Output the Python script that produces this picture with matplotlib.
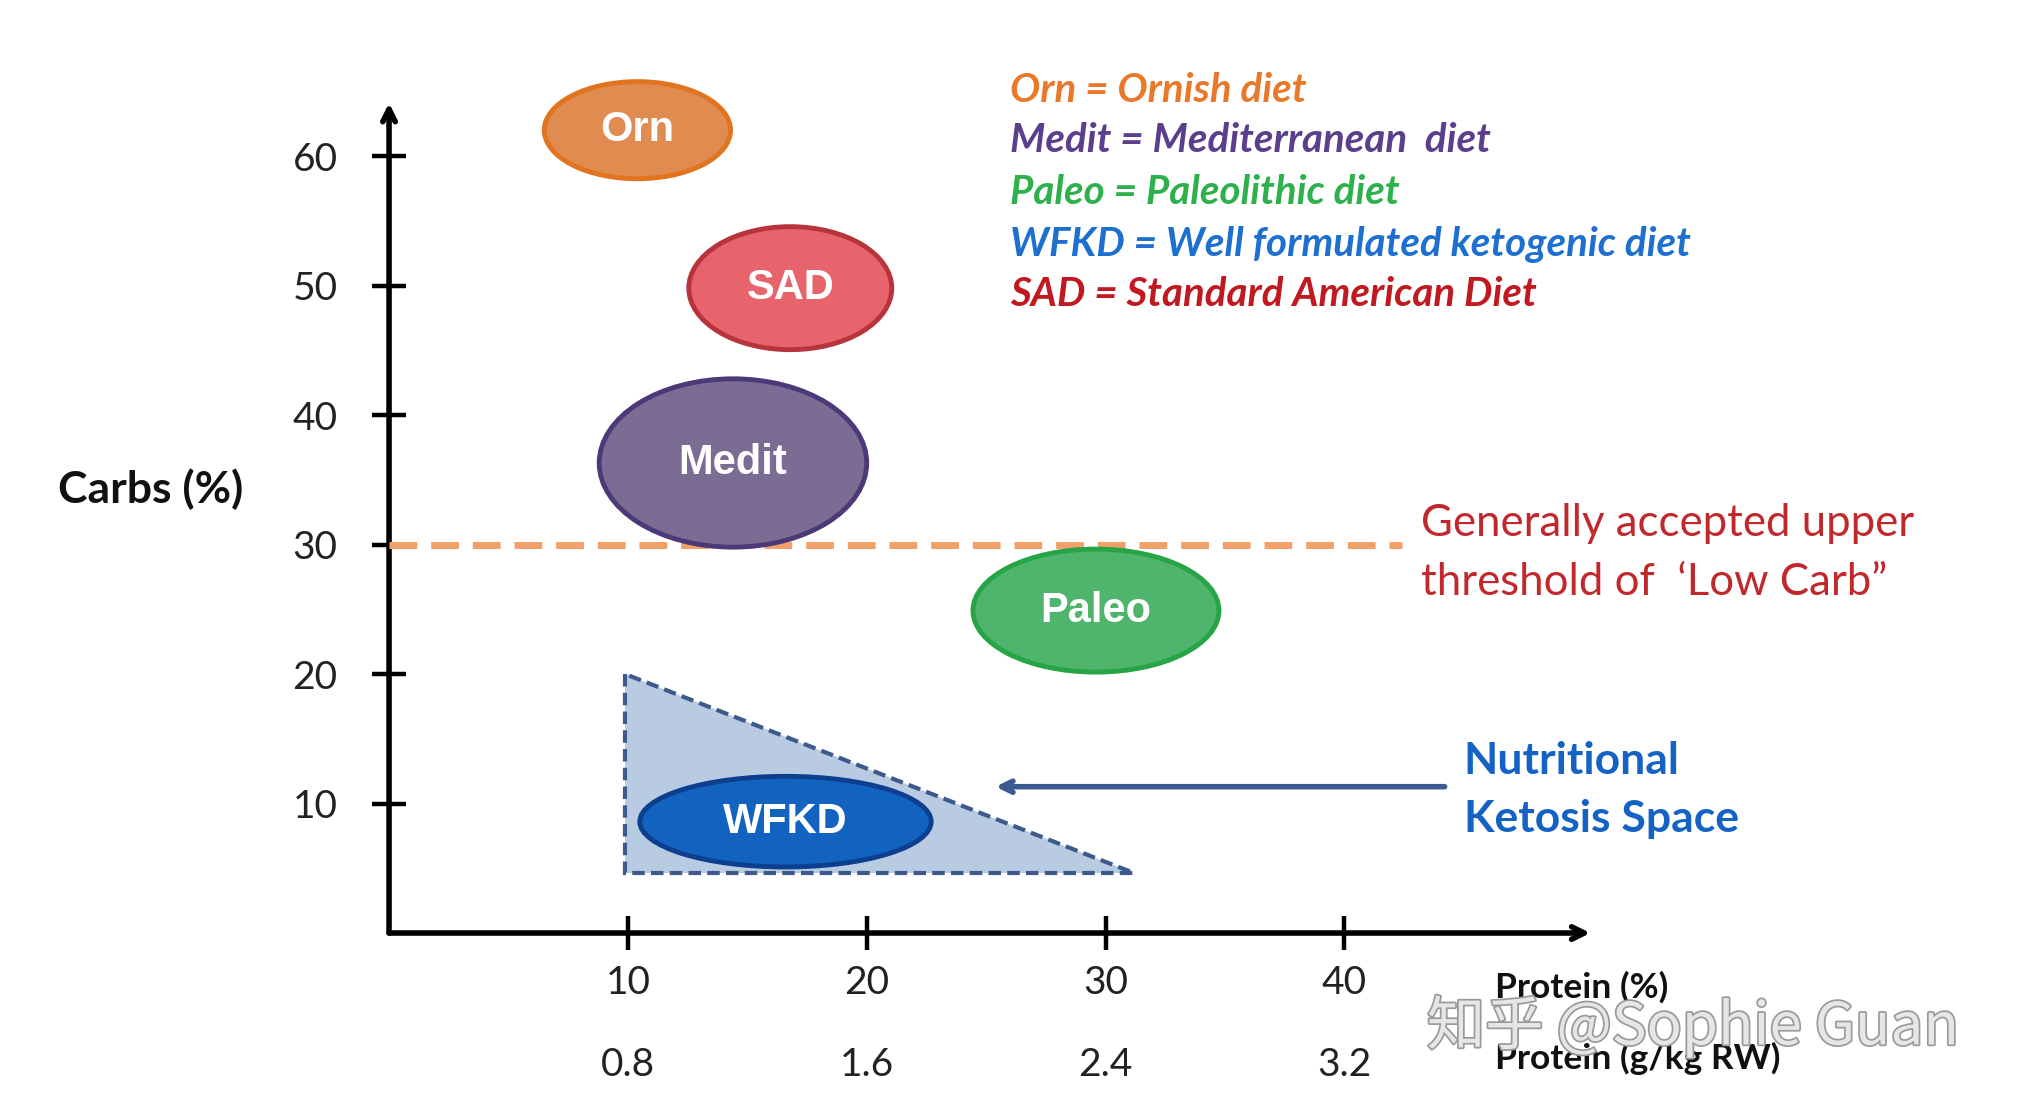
import matplotlib
matplotlib.use("Agg")
import matplotlib.pyplot as plt
from matplotlib.patches import Ellipse, Polygon
import matplotlib.patheffects as pe

# ---------------- data ----------------
diets = ["Orn", "SAD", "Medit", "Paleo", "WFKD"]
protein_pct = [10.4, 16.8, 14.4, 29.6, 16.6]      # centre x (protein %)
carbs_pct = [62.0, 49.8, 36.3, 24.9, 8.6]         # centre y (carbs %)
protein_span = [7.8, 8.5, 11.2, 10.3, 12.2]       # ellipse width (protein %)
carbs_span = [7.5, 9.5, 13.0, 9.5, 7.0]           # ellipse height (carbs %)
fill_colors = ["#e08b50", "#e8646c", "#7b6c93", "#4fb46c", "#1262c0"]
edge_colors = ["#e2731f", "#b8343c", "#4c3a78", "#27a445", "#0d3f8f"]

ketosis_protein = [9.9, 9.9, 31.2]
ketosis_carbs = [20.0, 4.6, 4.6]

low_carb_threshold = 30
threshold_end = 42.4

x_ticks = [10, 20, 30, 40]
x_ticklabels = ["10", "20", "30", "40"]
gkg_ticks = [0.8, 1.6, 2.4, 3.2]
gkg_labels = ["0.8", "1.6", "2.4", "3.2"]
y_ticks = [10, 20, 30, 40, 50, 60]
y_ticklabels = ["10", "20", "30", "40", "50", "60"]

legend_lines = ["Orn = Ornish diet",
                "Medit = Mediterranean  diet",
                "Paleo = Paleolithic diet",
                "WFKD = Well formulated ketogenic diet",
                "SAD = Standard American Diet"]
legend_colors = ["#e8792a", "#5b3f8c", "#2eb04c", "#1d6fd0", "#c0191f"]

# ---------------- figure ----------------
FONT = ["Lato", "DejaVu Sans"]
plt.rcParams["font.family"] = FONT

fig = plt.figure(figsize=(20.21, 11.11), dpi=100)
ax = fig.add_axes([0.1925, 0.1602, 0.5944, 0.7471])
ax.set_xlim(0, 50.3)
ax.set_ylim(0, 64.1)
for s in ax.spines.values():
    s.set_visible(False)

# axis arrows
ax.annotate("", xy=(1, 0), xytext=(0, 0), xycoords="axes fraction",
            arrowprops=dict(arrowstyle="->,head_length=0.9,head_width=0.45",
                            lw=4, color="black", shrinkA=0, shrinkB=0))
ax.annotate("", xy=(0, 1), xytext=(0, 0), xycoords="axes fraction",
            arrowprops=dict(arrowstyle="->,head_length=0.9,head_width=0.45",
                            lw=4, color="black", shrinkA=0, shrinkB=0))

ax.set_xticks(x_ticks, x_ticklabels)
ax.set_yticks(y_ticks, y_ticklabels)
ax.tick_params(axis="both", direction="inout", length=24, width=3.2,
               labelsize=28, colors="black")
ax.tick_params(axis="x", pad=11, labelcolor="#222222")
ax.tick_params(axis="y", pad=25, labelcolor="#222222")

sec = ax.secondary_xaxis("bottom", functions=(lambda x: x * 0.08, lambda x: x / 0.08))
sec.set_xticks(gkg_ticks, gkg_labels)
sec.tick_params(length=0, pad=82, labelsize=28, labelcolor="#222222")
sec.spines["bottom"].set_visible(False)

# ketosis triangle
tri = Polygon(list(zip(ketosis_protein, ketosis_carbs)), closed=True,
              facecolor="#b9cbe3", edgecolor="#3d5a8a", lw=3,
              linestyle=(0, (3, 1.5)), zorder=2)
ax.add_patch(tri)

# threshold line
ax.plot([0, threshold_end], [low_carb_threshold, low_carb_threshold],
        color="#f2a06a", lw=5, linestyle=(0, (4, 2)), zorder=3)

# diet ellipses
for name, x, y, w, h, fc, ec in zip(diets, protein_pct, carbs_pct, protein_span,
                                      carbs_span, fill_colors, edge_colors):
    e = Ellipse((x, y), w, h, facecolor=fc, edgecolor=ec, lw=3.5, zorder=4,
                clip_on=False)
    ax.add_patch(e)
    ax.text(x, y, name, color="white", fontsize=30, fontweight="bold",
            ha="center", va="center", family=["Liberation Sans", "DejaVu Sans"],
            zorder=5)

# arrow to ketosis space
ax.annotate("", xy=(25.4, 11.3), xytext=(44.2, 11.3), xycoords="data",
            arrowprops=dict(arrowstyle="->,head_length=0.8,head_width=0.4",
                            lw=4, color="#3c5a92", shrinkA=0, shrinkB=0))

ax.text(45.0, 13.3, "Nutritional", color="#1463c4", fontsize=32,
        fontweight="bold", ha="left", va="center", clip_on=False)
ax.text(45.0, 8.8, "Ketosis Space", color="#1463c4", fontsize=32,
        fontweight="bold", ha="left", va="center", clip_on=False)

ax.text(43.2, 31.6, "Generally accepted upper", color="#c0282c", fontsize=31.5,
        ha="left", va="center", clip_on=False)
ax.text(43.2, 27.1, "threshold of  \u2018Low Carb\u201d", color="#c0282c",
        fontsize=31.5, ha="left", va="center", clip_on=False)

# legend text
legend_y = [65.1, 61.2, 57.2, 53.2, 49.3]
for txt, c, y in zip(legend_lines, legend_colors, legend_y):
    ax.text(26.0, y, txt, color=c, fontsize=29, fontweight="bold",
            fontstyle="italic", ha="left", va="center", clip_on=False)

# axis titles
ax.text(-10.0, 34.3, "Carbs (%)", fontsize=32, fontweight="bold",
        ha="center", va="center", color="#111111")
ax.text(46.3, -4.2, "Protein (%)", fontsize=25.5, fontweight="bold",
        ha="left", va="center", color="#111111", clip_on=False)
ax.text(46.3, -9.7, "Protein (g/kg RW)", fontsize=25.5, fontweight="bold",
        ha="left", va="center", color="#111111", clip_on=False)

# watermark
fig.text(0.706, 0.0756, "\u77e5\u4e4e @Sophie Guan", fontsize=42,
         color="#e6e6e6", ha="left", va="center",
         family=["Noto Sans CJK SC", "DejaVu Sans"],
         path_effects=[pe.withStroke(linewidth=2.5, foreground="#9a9a9a")])

fig.savefig("out.png", dpi=100)
